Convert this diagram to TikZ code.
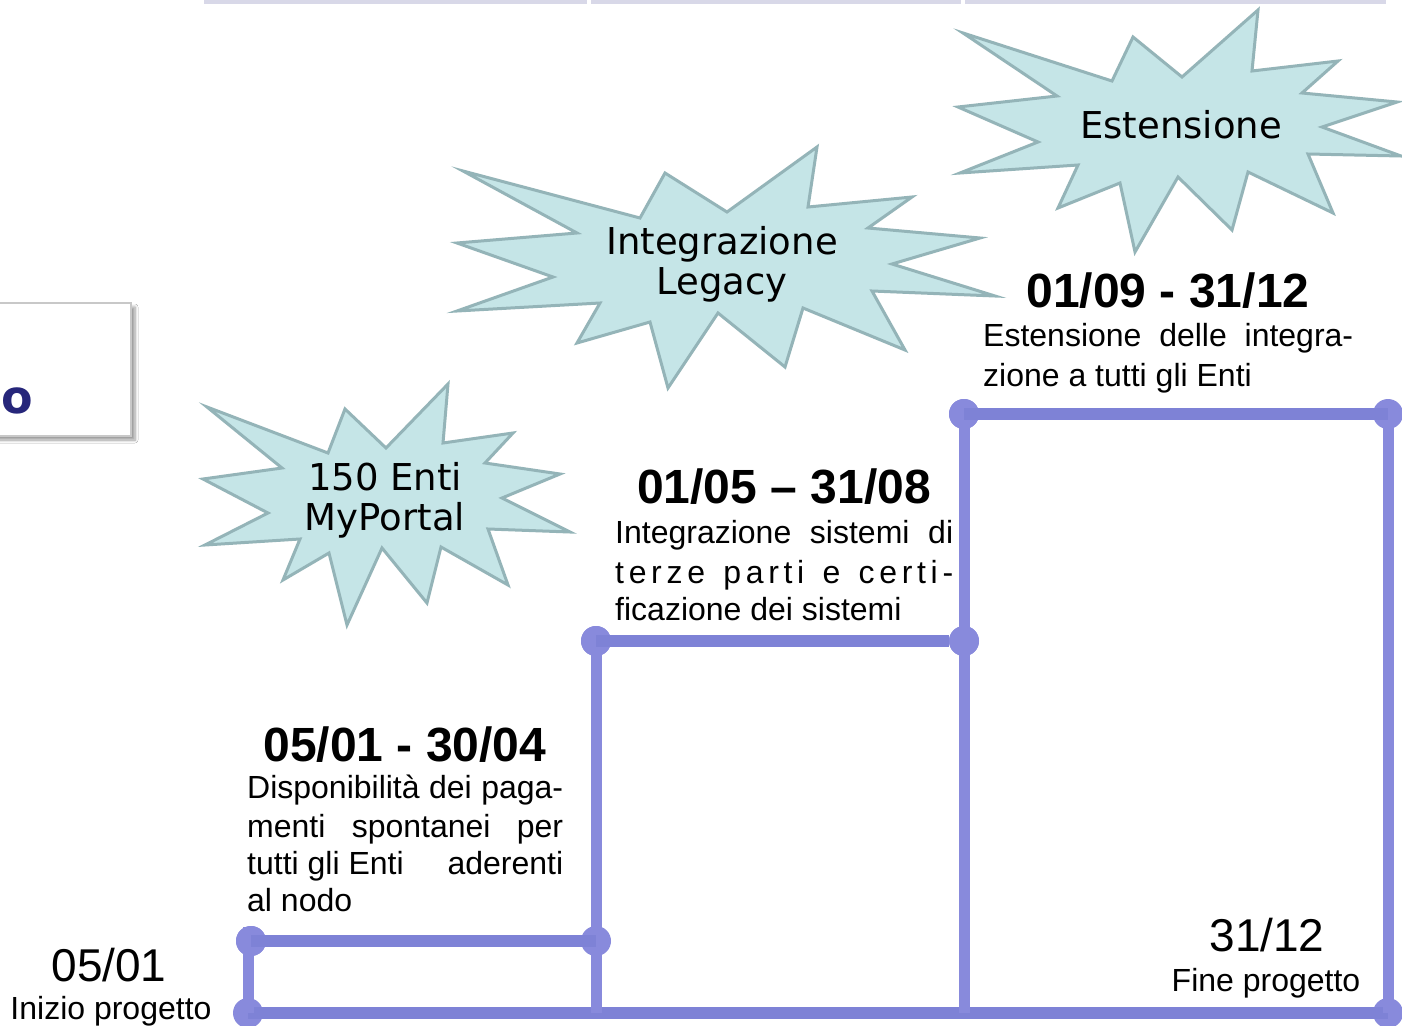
\documentclass[tikz,border=0pt]{standalone}
\usepackage{fontspec}
\setmainfont{Liberation Sans}
\newfontfamily\starfont{DejaVu Sans}
\usetikzlibrary{shadows.blur}
\definecolor{hline}{RGB}{126,130,214}
\definecolor{vline}{RGB}{136,138,220}
\definecolor{starfill}{RGB}{197,229,231}
\definecolor{starline}{RGB}{148,180,184}
\definecolor{topbar}{RGB}{216,216,232}
\definecolor{navy}{RGB}{38,38,122}
\definecolor{boxline}{RGB}{200,200,200}
\begin{document}
\begin{tikzpicture}[x=1pt,y=-1pt,
  burst/.style={fill=starfill,draw=starline,line width=3pt,line join=miter},
  startext/.style={font=\starfont\fontsize{37}{40}\selectfont,align=center,inner sep=0pt},
  datetext/.style={font=\bfseries\fontsize{48}{56}\selectfont,inner sep=0pt,anchor=base},
  bodyline/.style={font=\fontsize{32}{38}\selectfont,inner sep=0pt,anchor=base west},
  plainlbl/.style={inner sep=0pt,anchor=base},
  stepdot/.style={circle,fill=vline,minimum size=30pt,inner sep=0pt},
  hseg/.style={draw=hline,line width=12pt},
  vseg/.style={draw=vline,line width=11pt},
]
\useasboundingbox (0,0) rectangle (1402,1025);
\fill[white] (0,0) rectangle (1402,1025);

% top bars
\fill[topbar] (204,0) rectangle (587,4);
\fill[topbar] (591,0) rectangle (961,4);
\fill[topbar] (965,0) rectangle (1386,4);

% left title box (cut off)
\path[fill=white,draw=boxline,line width=1.5pt,
  blur shadow={shadow xshift=4pt,shadow yshift=-4pt,shadow blur steps=6,shadow blur radius=3pt}]
  (-20,303) rectangle (131,436);
\node[font=\starfont\bfseries\fontsize{46}{46}\selectfont,text=navy,anchor=base east,inner sep=0pt] (otext) at (33,413) {o};

% starbursts
\draw[burst] (207,407) -- (328,453) -- (345,409) -- (386,448) -- (448,384) -- (443,443) -- (513,433) -- (485,463) -- (560,474) -- (502,498) -- (570,532) -- (488,529) -- (508,585) -- (441,547) -- (427,603) -- (382,548) -- (347,625) -- (329,553) -- (283,580) -- (300,539) -- (205,545) -- (268,513) -- (203,479) -- (282,468) -- cycle;
\draw[burst] (463,171) -- (640,218) -- (665,173) -- (727,212) -- (817,147) -- (808,207) -- (912,197) -- (868,228) -- (980,238) -- (892,264) -- (995,296) -- (872,291) -- (905,350) -- (803,308) -- (785,367) -- (718,313) -- (668,388) -- (650,322) -- (577,343) -- (600,303) -- (457,311) -- (553,277) -- (457,243) -- (577,233) -- cycle;
\draw[burst] (963,33) -- (1112,81) -- (1133,37) -- (1182,77) -- (1258,10) -- (1252,71) -- (1338,61) -- (1302,93) -- (1397,102) -- (1322,127) -- (1401,156) -- (1308,154) -- (1333,213) -- (1248,172) -- (1232,230) -- (1178,177) -- (1135,252) -- (1120,183) -- (1058,208) -- (1078,165) -- (960,173) -- (1038,142) -- (958,107) -- (1057,96) -- cycle;

\node[startext] (l1) at (385,500) {150 Enti\\MyPortal};
\node[startext] (l2) at (722,264) {Integrazione\\Legacy};
\node[startext,anchor=base] (l3) at (1181,138) {Estensione};

% step line
\node[stepdot] (d1) at (248,1013) {};
\node[stepdot] (d2) at (251,941) {};
\node[stepdot] (d3) at (596,941) {};
\node[stepdot] (d4) at (596,641) {};
\node[stepdot] (d5) at (964,641) {};
\node[stepdot] (d6) at (964,414) {};
\node[stepdot] (d7) at (1388,414) {};
\node[stepdot] (d8) at (1388,1013) {};
\coordinate (v0) at (248,927);
\coordinate (b2) at (596,1013);
\coordinate (b3) at (964,1013);

\draw[hseg] (d1.center) -- (d8.center);
\draw[vseg] (v0) -- (d1.center);
\draw[vseg] (d4.center) -- (b2);
\draw[vseg] (d6.center) -- (b3);
\draw[vseg] (d7.center) -- (d8.center);
\node[stepdot] at (d2.center) {};
\node[stepdot] at (d4.center) {};
\node[stepdot] at (d5.center) {};
\node[stepdot] at (d6.center) {};
\draw[hseg] (d2.center) -- (d3.center);
\draw[hseg] (d4.center) -- (d5);
\draw[hseg] (d6.center) -- (d7.center);

% block 1
\node[datetext] (t1) at (405,761) {05/01 - 30/04};
\node[bodyline] (t1a) at (247,798) {\makebox[316pt][s]{Disponibilità dei paga-}};
\node[bodyline] (t1b) at (247,837) {\makebox[316pt][s]{menti spontanei per}};
\node[bodyline] (t1c) at (247,874) {\makebox[316pt][s]{tutti gli Enti\hfill aderenti}};
\node[bodyline] (t1d) at (247,911) {al nodo};

% block 2
\node[datetext] (t2) at (784,503) {01/05 – 31/08};
\node[bodyline] (t2a) at (615,543) {\makebox[338pt][s]{Integrazione sistemi di}};
\node[bodyline] (t2b) at (615,583) {\makebox[338pt][s]{t\hfil e\hfil r\hfil z\hfil e\hfil\ \hfil p\hfil a\hfil r\hfil t\hfil i\hfil\ \hfil e\hfil\ \hfil c\hfil e\hfil r\hfil t\hfil i\hfil -}};
\node[bodyline] (t2c) at (615,620) {ficazione dei sistemi};

% block 3
\node[datetext] (t3) at (1168,307) {01/09 - 31/12};
\node[bodyline] (t3a) at (983,346) {\makebox[370pt][s]{Estensione delle integra-}};
\node[bodyline] (t3b) at (983,386) {zione a tutti gli Enti};

% start / end labels
\node[plainlbl,font=\fontsize{46}{46}\selectfont] (s1) at (109,981) {05/01};
\node[plainlbl,font=\fontsize{32}{32}\selectfont] (s2) at (111,1019) {Inizio progetto};
\node[plainlbl,font=\fontsize{46}{46}\selectfont] (e1) at (1267,951) {31/12};
\node[plainlbl,font=\fontsize{32}{32}\selectfont] (e2) at (1266,991) {Fine progetto};
\end{tikzpicture}
\end{document}
